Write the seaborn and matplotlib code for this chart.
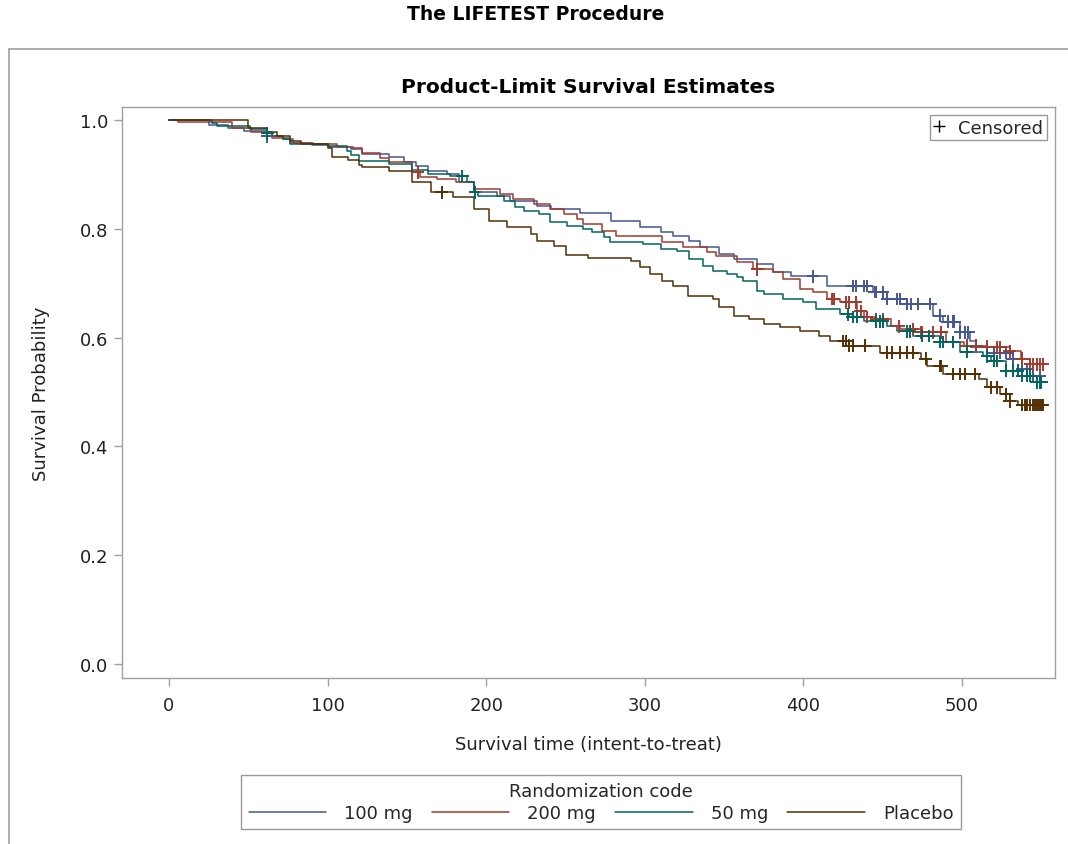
import numpy as np
import pandas as pd
import matplotlib
matplotlib.use("Agg")
import matplotlib.pyplot as plt
from matplotlib.lines import Line2D
import seaborn as sns

# ---------------- data ----------------
groups = ["100 mg", "200 mg", "50 mg", "Placebo"]
colors = ["#445694", "#A23A2E", "#01665E", "#543005"]

t_100 = [0, 25, 37, 47, 62, 72, 78, 90, 100, 115, 122, 139, 148, 156, 163, 175, 183, 192, 207, 215, 232, 241,
         259, 279, 297, 310, 318, 328, 335, 347, 356, 371, 381, 392, 415, 444, 453, 465, 482, 488, 499, 505,
         509, 520, 532, 538, 545]
s_100 = [1.0, 0.99, 0.986, 0.98, 0.97, 0.965, 0.958, 0.955, 0.951, 0.947, 0.938, 0.932, 0.923, 0.915, 0.906,
         0.901, 0.886, 0.868, 0.86, 0.851, 0.842, 0.836, 0.829, 0.814, 0.803, 0.794, 0.787, 0.778, 0.767, 0.754,
         0.744, 0.735, 0.72, 0.713, 0.695, 0.684, 0.671, 0.662, 0.64, 0.629, 0.61, 0.594, 0.583, 0.572, 0.561,
         0.542, 0.53]
c_100 = [62, 406, 431, 433, 438, 440, 445, 446, 450, 453, 459, 461, 465, 468, 472, 480, 486, 491, 494, 495, 499,
         502, 504, 509, 516, 520, 524, 528, 532, 538, 541, 545, 549]

t_200 = [0, 6, 40, 52, 65, 76, 91, 106, 116, 122, 133, 139, 153, 158, 169, 181, 192, 209, 217, 230, 240, 249,
         257, 261, 273, 282, 311, 324, 339, 345, 358, 368, 381, 387, 398, 406, 415, 423, 434, 438, 446, 455,
         461, 474, 490, 501, 516, 530, 537, 543]
s_200 = [1.0, 0.997, 0.985, 0.978, 0.967, 0.958, 0.956, 0.95, 0.948, 0.94, 0.931, 0.923, 0.904, 0.895, 0.892,
         0.886, 0.873, 0.864, 0.855, 0.846, 0.836, 0.827, 0.818, 0.809, 0.796, 0.787, 0.776, 0.767, 0.757, 0.75,
         0.739, 0.726, 0.72, 0.708, 0.689, 0.684, 0.671, 0.665, 0.649, 0.638, 0.634, 0.621, 0.616, 0.61, 0.592,
         0.585, 0.582, 0.575, 0.561, 0.551]
c_200 = [157, 371, 418, 419, 427, 429, 433, 436, 440, 446, 450, 460, 469, 474, 475, 482, 487, 494, 503, 509, 516,
         522, 524, 530, 538, 543, 545, 547, 549, 551]

t_50 = [0, 27, 30, 51, 62, 65, 72, 76, 100, 112, 115, 120, 139, 153, 163, 177, 188, 192, 195, 211, 218, 224,
        233, 240, 251, 261, 267, 274, 278, 299, 310, 320, 328, 337, 343, 352, 358, 362, 371, 375, 387, 400, 408,
        423, 429, 438, 453, 459, 469, 486, 499, 513, 518, 528, 538, 545]
s_50 = [1.0, 0.994, 0.989, 0.983, 0.976, 0.97, 0.965, 0.956, 0.952, 0.943, 0.936, 0.925, 0.919, 0.908, 0.9,
        0.897, 0.886, 0.867, 0.86, 0.851, 0.84, 0.833, 0.827, 0.812, 0.805, 0.8, 0.794, 0.785, 0.776, 0.772,
        0.763, 0.76, 0.744, 0.732, 0.722, 0.717, 0.711, 0.704, 0.686, 0.68, 0.671, 0.665, 0.653, 0.643, 0.638,
        0.63, 0.621, 0.612, 0.603, 0.592, 0.574, 0.566, 0.557, 0.539, 0.53, 0.518]
c_50 = [62, 185, 193, 428, 431, 434, 446, 448, 450, 465, 467, 475, 479, 486, 488, 494, 503, 516, 520, 522, 528,
        532, 535, 538, 541, 543, 547, 549, 550]

t_pl = [0, 50, 62, 68, 76, 83, 100, 103, 113, 120, 122, 139, 153, 165, 179, 192, 202, 213, 228, 232, 243, 250,
        264, 291, 297, 303, 311, 318, 327, 343, 347, 356, 366, 375, 385, 398, 410, 417, 429, 448, 474, 478, 488,
        511, 516, 524, 530, 535]
s_pl = [1.0, 0.985, 0.978, 0.97, 0.962, 0.956, 0.948, 0.932, 0.926, 0.917, 0.914, 0.906, 0.886, 0.867, 0.858,
        0.836, 0.814, 0.803, 0.79, 0.778, 0.768, 0.752, 0.746, 0.741, 0.73, 0.717, 0.704, 0.695, 0.676, 0.671,
        0.656, 0.64, 0.634, 0.625, 0.619, 0.612, 0.603, 0.594, 0.585, 0.572, 0.561, 0.548, 0.533, 0.524, 0.509,
        0.496, 0.483, 0.476]
c_pl = [172, 425, 427, 429, 431, 439, 453, 456, 461, 465, 469, 477, 486, 487, 494, 499, 502, 508, 518, 522, 528,
        530, 538, 540, 541, 543, 545, 546, 547, 548, 549, 550, 551]

step_times = [t_100, t_200, t_50, t_pl]
step_surv = [s_100, s_200, s_50, s_pl]
censor_times = [c_100, c_200, c_50, c_pl]

x_ticks = [0, 100, 200, 300, 400, 500]
y_ticks = [0.0, 0.2, 0.4, 0.6, 0.8, 1.0]

# ---------------- build long-form tables ----------------
line_rows, cens_rows = [], []
for g, tt, ss, cc in zip(groups, step_times, step_surv, censor_times):
    tt = np.asarray(tt, float)
    ss = np.asarray(ss, float)
    cc = np.asarray(cc, float)
    t_end = max(tt.max(), cc.max())
    for a, b in zip(np.append(tt, t_end), np.append(ss, ss[-1])):
        line_rows.append((g, a, b))
    idx = np.searchsorted(tt, cc, side="right") - 1
    for a, b in zip(cc, ss[idx]):
        cens_rows.append((g, a, b))
lines_df = pd.DataFrame(line_rows, columns=["group", "time", "surv"])
cens_df = pd.DataFrame(cens_rows, columns=["group", "time", "surv"])

# ---------------- plot ----------------
sns.set_style("white")
plt.rcParams["font.family"] = ["DejaVu Sans"]

FS = 13
fig = plt.figure(figsize=(10.68, 8.45), dpi=100)
ax = fig.add_axes([122 / 1068, 1 - 679 / 845, (1055 - 122) / 1068, (679 - 108) / 845])

palette = dict(zip(groups, colors))
sns.lineplot(data=lines_df, x="time", y="surv", hue="group", hue_order=groups, palette=palette,
             estimator=None, sort=True, drawstyle="steps-post", linewidth=1.1, ax=ax, legend=False)
sns.scatterplot(data=cens_df, x="time", y="surv", hue="group", hue_order=groups, palette=palette,
                marker="+", s=85, linewidth=1.4, ax=ax, legend=False, zorder=3)

ax.set_xlim(-29.6, 558.6)
ax.set_ylim(-0.0257, 1.024)
ax.set_xticks(x_ticks)
ax.set_xticklabels([str(v) for v in x_ticks])
ax.set_yticks(y_ticks)
ax.set_yticklabels([f"{v:.1f}" for v in y_ticks])

spine_c = "#A0A0A0"
for sp in ax.spines.values():
    sp.set_visible(True)
    sp.set_color(spine_c)
    sp.set_linewidth(1.0)
ax.tick_params(axis="both", which="major", length=6, width=1.0, color=spine_c,
               labelsize=FS, labelcolor="#222222", direction="out", bottom=True, left=True, pad=4)
ax.tick_params(axis="x", pad=7)

ax.set_xlabel("Survival time (intent-to-treat)", fontsize=FS, color="#222222", labelpad=15)
ax.set_ylabel("Survival Probability", fontsize=FS, color="#222222", labelpad=21)
ax.set_title("Product-Limit Survival Estimates", fontsize=14.5, fontweight="bold", pad=11, color="black")

# censored key
cen_handle = Line2D([], [], marker="+", color="black", linestyle="none", markersize=9, markeredgewidth=1.0)
leg_c = ax.legend(handles=[cen_handle], labels=["Censored"], loc="upper right", fontsize=13,
                  handlelength=0.6, handletextpad=0.75, borderaxespad=0.45, borderpad=0.2,
                  frameon=True, fancybox=False, edgecolor="#808080")
leg_c.get_frame().set_linewidth(1.0)

# group legend
handles = [Line2D([], [], color=c, linewidth=1.1) for c in colors]
leg = fig.legend(handles=handles, labels=groups, title="Randomization code", ncol=4,
                 loc="upper center", bbox_to_anchor=(601 / 1068, 1 - 776 / 845), borderaxespad=0,
                 fontsize=FS, title_fontsize=FS, handlelength=4.3, handletextpad=1.0,
                 columnspacing=1.05, borderpad=0.4, labelspacing=0.2,
                 frameon=True, fancybox=False, edgecolor="#808080")
leg.get_frame().set_linewidth(1.0)

# outer frame and page title
fig.add_artist(Line2D([9 / 1068, 1.0], [1 - 50 / 845, 1 - 50 / 845], transform=fig.transFigure,
                      color="#A0A0A0", linewidth=1.2))
fig.add_artist(Line2D([9 / 1068, 9 / 1068], [0.0, 1 - 50 / 845], transform=fig.transFigure,
                      color="#A0A0A0", linewidth=1.2))
fig.text(536 / 1068, 1 - 15 / 845, "The LIFETEST Procedure", ha="center", va="center",
         fontsize=13.5, fontweight="bold", color="black")

fig.savefig("out.png", dpi=100)
